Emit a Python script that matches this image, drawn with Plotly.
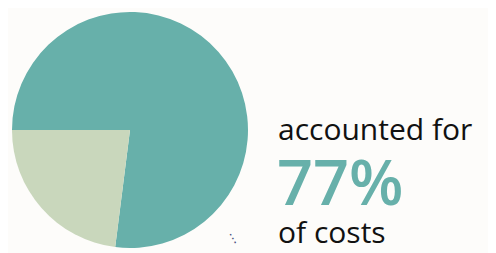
import plotly.graph_objects as go

labels = ["Accounted", "Other"]
values = [77, 23]
colors = ["#67b0aa", "#c9d7bc"]
headline = "77%"
line_top = "accounted for"
line_bottom = "of costs"

W, H = 496, 253
OFF = 8  # page body margin offset


def py(px):
    return 1 - (px - OFF) / H


def pxx(px):
    return (px - OFF) / W


fig = go.Figure(go.Pie(
    labels=labels, values=values, sort=False, direction="counterclockwise",
    rotation=270, marker=dict(colors=colors, line=dict(width=0)),
    textinfo="none", hoverinfo="label+percent",
    domain=dict(x=[pxx(11), pxx(249)], y=[py(248), py(12)]),
    showlegend=False,
))

font = "Open Sans"
fig.add_annotation(text=line_top, x=pxx(276), y=py(128.5), xref="paper", yref="paper",
                   xanchor="left", yanchor="middle", showarrow=False,
                   font=dict(family=font, size=30, color="#111111"))
fig.add_annotation(text=headline, x=pxx(275), y=py(180), xref="paper", yref="paper",
                   xanchor="left", yanchor="middle", showarrow=False,
                   font=dict(family=font, size=63, color="#67b0aa", weight=600))
fig.add_annotation(text=line_bottom, x=pxx(276), y=py(231.5), xref="paper", yref="paper",
                   xanchor="left", yanchor="middle", showarrow=False,
                   font=dict(family=font, size=30, color="#111111"))
fig.add_annotation(text="⋮", x=pxx(232), y=py(238), xref="paper", yref="paper",
                   xanchor="center", yanchor="middle", showarrow=False, textangle=-30,
                   font=dict(family="DejaVu Sans", size=13, color="#4b5280"))

fig.update_layout(width=W, height=H, margin=dict(l=0, r=0, t=0, b=0),
                  paper_bgcolor="#fdfcfa", plot_bgcolor="#fdfcfa")
fig.write_html("out.html")
